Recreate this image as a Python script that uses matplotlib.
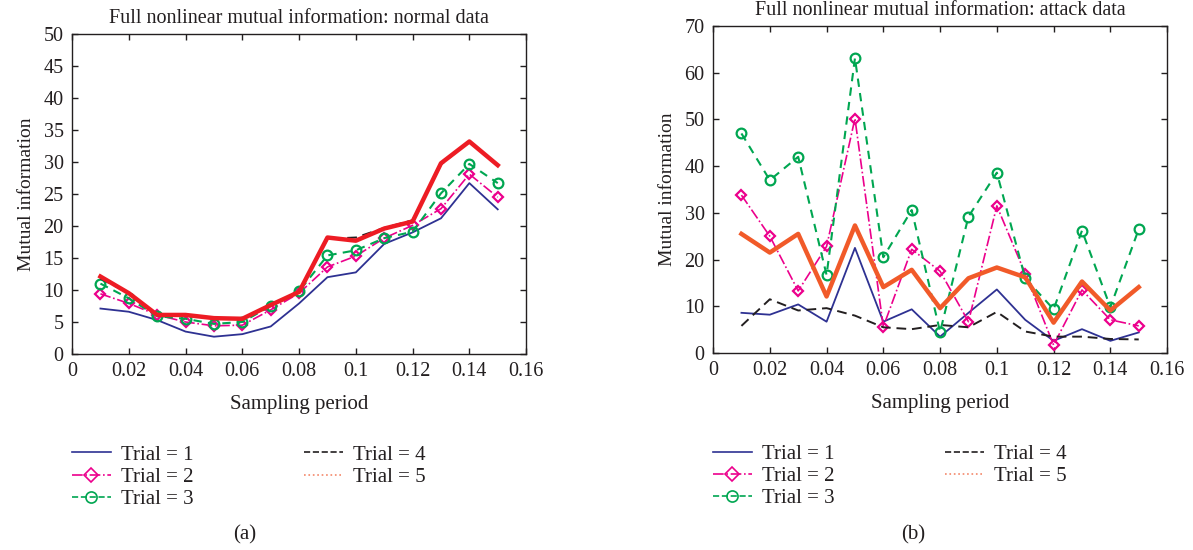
import matplotlib.pyplot as plt
from matplotlib.lines import Line2D

plt.rcParams['font.family'] = ['Liberation Serif', 'DejaVu Serif']

# sampling periods (same for both panels)
period = [0.01, 0.02, 0.03, 0.04, 0.05, 0.06, 0.07, 0.08,
          0.09, 0.10, 0.11, 0.12, 0.13, 0.14, 0.15]

# (a) normal data
normal_t1 = [7.1, 6.6, 5.3, 3.5, 2.7, 3.1, 4.3, 7.9, 12.0, 12.75, 17.2, 19.0, 21.2, 26.7, 22.6]
normal_t2 = [9.4, 7.9, 6.1, 5.0, 4.4, 4.5, 6.9, 9.5, 13.6, 15.3, 18.1, 20.1, 22.7, 28.1, 24.5]
normal_t3 = [11.0, 8.7, 5.9, 5.5, 4.7, 5.0, 7.5, 9.8, 15.4, 16.2, 18.1, 19.1, 25.1, 29.7, 26.7]
normal_t4 = [11.8, 9.5, 6.1, 6.1, 5.6, 5.5, 7.6, 9.8, 18.0, 18.2, 19.7, 20.9, 29.6, 33.2, 29.5]
normal_t5 = [12.1, 9.5, 6.1, 6.1, 5.6, 5.5, 7.65, 9.7, 18.2, 17.7, 19.6, 20.7, 29.8, 33.2, 29.5]

# (b) attack data
attack_t1 = [8.6, 8.2, 10.4, 6.7, 22.5, 6.7, 9.35, 3.5, 8.6, 13.6, 7.1, 2.6, 5.1, 2.6, 4.4]
attack_t2 = [33.8, 25.0, 13.3, 22.8, 50.2, 5.6, 22.2, 17.5, 6.7, 31.5, 17.0, 1.7, 13.5, 7.1, 5.8]
attack_t3 = [47.0, 37.0, 42.0, 16.7, 63.1, 20.5, 30.6, 4.5, 29.2, 38.6, 16.0, 9.35, 26.2, 9.8, 26.5]
attack_t4 = [5.8, 11.5, 9.1, 9.6, 8.0, 5.5, 5.1, 6.0, 5.5, 8.8, 4.6, 3.5, 3.5, 3.0, 2.9]
attack_t5 = [25.5, 21.5, 25.5, 12.1, 27.3, 14.1, 17.8, 9.6, 16.0, 18.3, 16.2, 6.5, 15.3, 9.1, 14.1]

labels = ['Trial = 1', 'Trial = 2', 'Trial = 3', 'Trial = 4', 'Trial = 5']

TXT = '#231f20'
BLUE = '#2e3192'
MAGENTA = '#ec008c'
GREEN = '#00a651'
BLACK = '#231f20'


def draw_panel(ax, series, red, ymax, ystep, title, leg_y):
    t1, t2, t3, t4, t5 = series
    ax.plot(period, t1, color=BLUE, lw=1.3)
    ax.plot(period, t2, color=MAGENTA, lw=1.2, ls='-.', marker='D', ms=5.5,
            mfc='none', mew=1.6)
    ax.plot(period, t3, color=GREEN, lw=1.5, ls=(0, (4, 3)), marker='o', ms=7,
            mfc='none', mew=1.6)
    ax.plot(period, t4, color=BLACK, lw=1.4, ls=(0, (5, 3)))
    ax.plot(period, t5, color=red, lw=3.2)

    ax.set_xlim(0, 0.16)
    ax.set_ylim(0, ymax)
    ax.set_xticks([0, 0.02, 0.04, 0.06, 0.08, 0.1, 0.12, 0.14, 0.16])
    ax.set_xticklabels(['0', '0.02', '0.04', '0.06', '0.08', '0.1', '0.12', '0.14', '0.16'])
    ax.set_yticks(range(0, ymax + 1, ystep))
    ax.tick_params(direction='in', top=True, right=True, length=4, width=1,
                   labelsize=14.5, colors=TXT, pad=6)
    for s in ax.spines.values():
        s.set_color(TXT)
        s.set_linewidth(1)
    ax.set_title(title, fontsize=14.5, color=TXT, pad=8)
    ax.set_xlabel('Sampling period', fontsize=15, color=TXT, labelpad=10)
    ax.set_ylabel('Mutual information', fontsize=14, color=TXT, labelpad=6)

    # legend with plain line styles (trial 5 shown dotted, like the original)
    handles = [
        Line2D([], [], color=BLUE, lw=1.2),
        Line2D([], [], color=MAGENTA, lw=1.2, ls='-.', marker='D', ms=7, mfc='none', mew=1.2),
        Line2D([], [], color=GREEN, lw=1.2, ls='--', marker='o', ms=8, mfc='none', mew=1.2),
        Line2D([], [], color=BLACK, lw=1.2, ls='--'),
        Line2D([], [], color='#f4876a', lw=1.2, ls=':'),
    ]
    ax.legend(handles, labels, ncol=2, loc='upper left', bbox_to_anchor=(0.0, leg_y),
              frameon=False, fontsize=15, handlelength=1.85, handletextpad=0.5,
              columnspacing=5.3, labelspacing=0.12, borderaxespad=0, borderpad=0,
              labelcolor=TXT)


fig = plt.figure(figsize=(11.93, 5.5), dpi=100)
ax1 = fig.add_axes([0.0604, 0.3564, 0.3806, 0.5818])
ax2 = fig.add_axes([0.5977, 0.3582, 0.3806, 0.5945])

draw_panel(ax1, [normal_t1, normal_t2, normal_t3, normal_t4, normal_t5], '#ed1c24',
           50, 5, 'Full nonlinear mutual information: normal data', -0.285)
draw_panel(ax2, [attack_t1, attack_t2, attack_t3, attack_t4, attack_t5], '#f15a29',
           70, 10, 'Full nonlinear mutual information: attack data', -0.28)

fig.text(245 / 1193, 1 - 535 / 550, '(a)', ha='center', va='center', fontsize=15, color=TXT)
fig.text(913 / 1193, 1 - 535 / 550, '(b)', ha='center', va='center', fontsize=15, color=TXT)

fig.savefig('out.png', dpi=100)
